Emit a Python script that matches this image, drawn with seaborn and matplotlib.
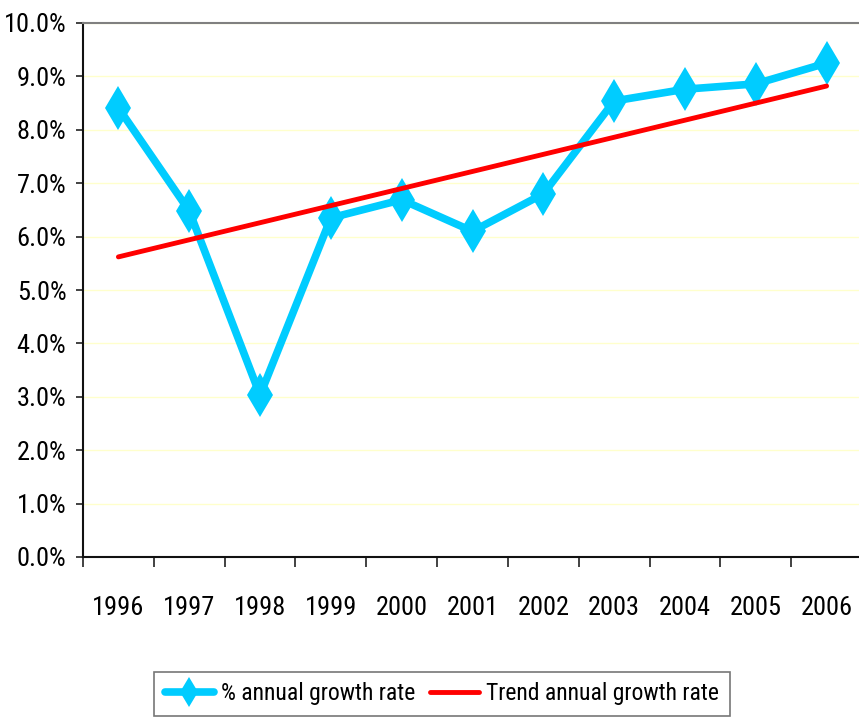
import pandas as pd
import seaborn as sns
import matplotlib.pyplot as plt
from matplotlib.ticker import FixedLocator, PercentFormatter

years = ["1996", "1997", "1998", "1999", "2000", "2001", "2002", "2003", "2004", "2005", "2006"]
growth = [8.41, 6.48, 3.03, 6.35, 6.69, 6.10, 6.80, 8.54, 8.76, 8.86, 9.25]
trend = [5.62, 5.94, 6.26, 6.58, 6.90, 7.22, 7.54, 7.86, 8.18, 8.50, 8.82]

sns.set_theme(style="white")
plt.rcParams["font.family"] = ["Roboto Condensed", "Archivo Narrow", "DejaVu Sans"]
plt.rcParams["text.color"] = "black"
plt.rcParams["xtick.color"] = "black"
plt.rcParams["ytick.color"] = "black"

df = pd.DataFrame({"pos": range(len(years)), "growth": growth, "trend": trend})

fig = plt.figure(figsize=(8.59, 7.19), dpi=100)
ax = fig.add_axes([83 / 859, 1 - 557 / 719, 779 / 859, 534 / 719])

sns.lineplot(data=df, x="pos", y="growth", ax=ax, color="#00ccff", linewidth=5.5,
             marker="d", markersize=22, markeredgewidth=0, label="% annual growth rate")
sns.lineplot(data=df, x="pos", y="trend", ax=ax, color="#ff0000", linewidth=3.5,
             label="Trend annual growth rate")

ax.set_xlim(-0.5, len(years) - 0.5)
ax.set_ylim(0, 10)
ax.set_yticks(range(0, 11))
ax.yaxis.set_major_formatter(PercentFormatter(decimals=1))
ax.set_xticks(range(len(years)))
ax.set_xticklabels(years)
ax.xaxis.set_minor_locator(FixedLocator([i - 0.5 for i in range(len(years) + 1)]))
ax.tick_params(axis="x", which="major", length=0, pad=28, labelsize=19)
ax.tick_params(axis="x", which="minor", bottom=True, length=7, width=1.2, color="#222222")
ax.tick_params(axis="y", left=True, length=5, width=1.2, color="#222222", pad=7, labelsize=19)
ax.set_xlabel("")
ax.set_ylabel("")

ax.grid(axis="y", color="#ffffcc", linewidth=1)
ax.set_axisbelow(True)
for side in ["left", "bottom"]:
    ax.spines[side].set_color("#111111")
    ax.spines[side].set_linewidth(1.5)
ax.spines["top"].set_color("#808080")
ax.spines["top"].set_linewidth(1.5)

ax.get_legend().remove()
handles, labels = ax.get_legend_handles_labels()
leg = fig.legend(handles, labels, loc="upper center", bbox_to_anchor=(442 / 859, 1 - 660 / 719),
                 ncol=2, fontsize=17, frameon=True, fancybox=False, handlelength=2.1,
                 handletextpad=0.3, columnspacing=0.6, borderpad=0.45, markerscale=0.7)
leg.get_frame().set_edgecolor("#555555")
leg.get_frame().set_linewidth(1.2)

fig.savefig("out.png", dpi=100)
